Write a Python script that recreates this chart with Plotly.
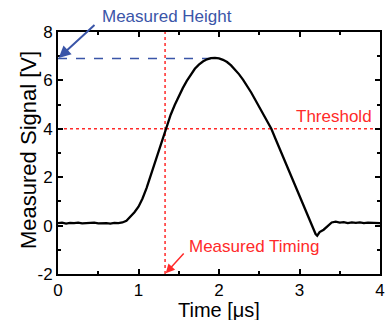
import plotly.graph_objects as go

# Data
time_us = [0.00, 0.05, 0.10, 0.15, 0.20, 0.25, 0.30, 0.35, 0.40, 0.45, 0.50, 0.55, 0.60, 0.65,
           0.70, 0.75, 0.80, 0.85, 0.90, 0.95, 1.00, 1.05, 1.10, 1.15, 1.20, 1.25, 1.30, 1.35,
           1.40, 1.45, 1.50, 1.55, 1.60, 1.65, 1.70, 1.75, 1.80, 1.85, 1.90, 1.95, 2.00, 2.05,
           2.10, 2.15, 2.20, 2.25, 2.30, 2.35, 2.40, 2.45, 2.50, 2.55, 2.60, 2.65, 2.70, 2.75,
           2.80, 2.85, 2.90, 2.95, 3.00, 3.05, 3.10, 3.15, 3.20, 3.22, 3.25, 3.30, 3.35, 3.40,
           3.45, 3.50, 3.55, 3.60, 3.65, 3.70, 3.75, 3.80, 3.85, 3.90, 3.95, 4.00]
signal_v = [0.10, 0.12, 0.08, 0.11, 0.10, 0.12, 0.09, 0.11, 0.10, 0.12, 0.09, 0.11, 0.10, 0.08,
            0.11, 0.10, 0.13, 0.20, 0.36, 0.55, 0.78, 1.12, 1.55, 2.05, 2.58, 3.10, 3.62, 4.12,
            4.58, 4.98, 5.35, 5.68, 5.98, 6.25, 6.48, 6.65, 6.78, 6.87, 6.92, 6.93, 6.91, 6.85,
            6.76, 6.62, 6.45, 6.25, 6.02, 5.77, 5.50, 5.20, 4.90, 4.60, 4.30, 4.00, 3.60, 3.20,
            2.80, 2.40, 2.00, 1.60, 1.20, 0.80, 0.40, 0.00, -0.35, -0.42, -0.27, -0.17, -0.02, 0.13,
            0.16, 0.12, 0.14, 0.10, 0.13, 0.11, 0.13, 0.10, 0.12, 0.11, 0.13, 0.10]

threshold = 4.0
measured_height = 6.9
peak_time = 1.95
measured_timing = 1.33

x_ticks = [0, 1, 2, 3, 4]
y_ticks = [-2, 0, 2, 4, 6, 8]

RED = "#ff2a2a"
BLUE = "#3a55a8"
FONT = "Liberation Sans, Arial, sans-serif"

fig = go.Figure()

fig.add_trace(go.Scatter(x=[0, 4], y=[threshold, threshold], mode="lines",
                         line=dict(color=RED, width=1.5, dash="dot"), hoverinfo="skip"))
fig.add_trace(go.Scatter(x=[measured_timing, measured_timing], y=[-2, 8], mode="lines",
                         line=dict(color=RED, width=1.5, dash="dot"), hoverinfo="skip"))
fig.add_trace(go.Scatter(x=[0, peak_time], y=[measured_height, measured_height], mode="lines",
                         line=dict(color=BLUE, width=1.5, dash="dash"), hoverinfo="skip"))
fig.add_trace(go.Scatter(x=time_us, y=signal_v, mode="lines",
                         line=dict(color="black", width=2.3), hoverinfo="skip"))

fig.add_annotation(x=0, y=measured_height, xref="x", yref="y",
                   ax=38, ay=-35, text="", showarrow=True, arrowhead=2, arrowsize=1.2,
                   arrowwidth=2, arrowcolor=BLUE, standoff=1)
fig.add_annotation(x=0.52, y=1.065, xref="x", yref="paper", text="Measured Height",
                   showarrow=False, xanchor="left", yanchor="middle",
                   font=dict(family=FONT, size=17, color=BLUE))
fig.add_annotation(x=measured_timing, y=-2, xref="x", yref="y",
                   ax=20, ay=-22, text="", showarrow=True, arrowhead=2, arrowsize=1.2,
                   arrowwidth=1.5, arrowcolor=RED, standoff=1)
fig.add_annotation(x=1.6, y=-0.88, xref="x", yref="y", text="Measured Timing",
                   showarrow=False, xanchor="left", yanchor="middle",
                   font=dict(family=FONT, size=17, color=RED))
fig.add_annotation(x=3.92, y=4.5, xref="x", yref="y", text="Threshold",
                   showarrow=False, xanchor="right", yanchor="middle",
                   font=dict(family=FONT, size=17, color=RED))

# axis titles placed as annotations for precise positioning
fig.add_annotation(x=0.5, y=-0.148, xref="paper", yref="paper", text="Time [μs]",
                   showarrow=False, xanchor="center", yanchor="middle",
                   font=dict(family=FONT, size=20, color="black"))
fig.add_annotation(x=-0.092, y=0.514, xref="paper", yref="paper", text="Measured Signal [V]",
                   showarrow=False, xanchor="center", yanchor="middle", textangle=-90,
                   font=dict(family=FONT, size=22, color="black"))

axis_common = dict(showline=True, linecolor="black", linewidth=2, mirror="allticks",
                   ticks="inside", ticklen=5, tickwidth=1.5, tickcolor="black",
                   showgrid=False, zeroline=False, ticklabeloverflow="allow",
                   tickfont=dict(family=FONT, size=17, color="black"))

fig.update_xaxes(range=[0, 4], tickvals=x_ticks, ticktext=[str(v) for v in x_ticks],
                 minor=dict(dtick=0.5, ticks="inside", ticklen=3, tickcolor="black", tickwidth=1.5),
                 **axis_common)
fig.update_yaxes(range=[-2, 8], tickvals=y_ticks, ticktext=[str(v) for v in y_ticks],
                 minor=dict(dtick=1, ticks="inside", ticklen=3, tickcolor="black", tickwidth=1.5),
                 **axis_common)

fig.update_layout(width=386, height=320, showlegend=False,
                  margin=dict(l=58, r=1, t=32, b=46),
                  plot_bgcolor="white", paper_bgcolor="white")

fig.write_html("out.html")
